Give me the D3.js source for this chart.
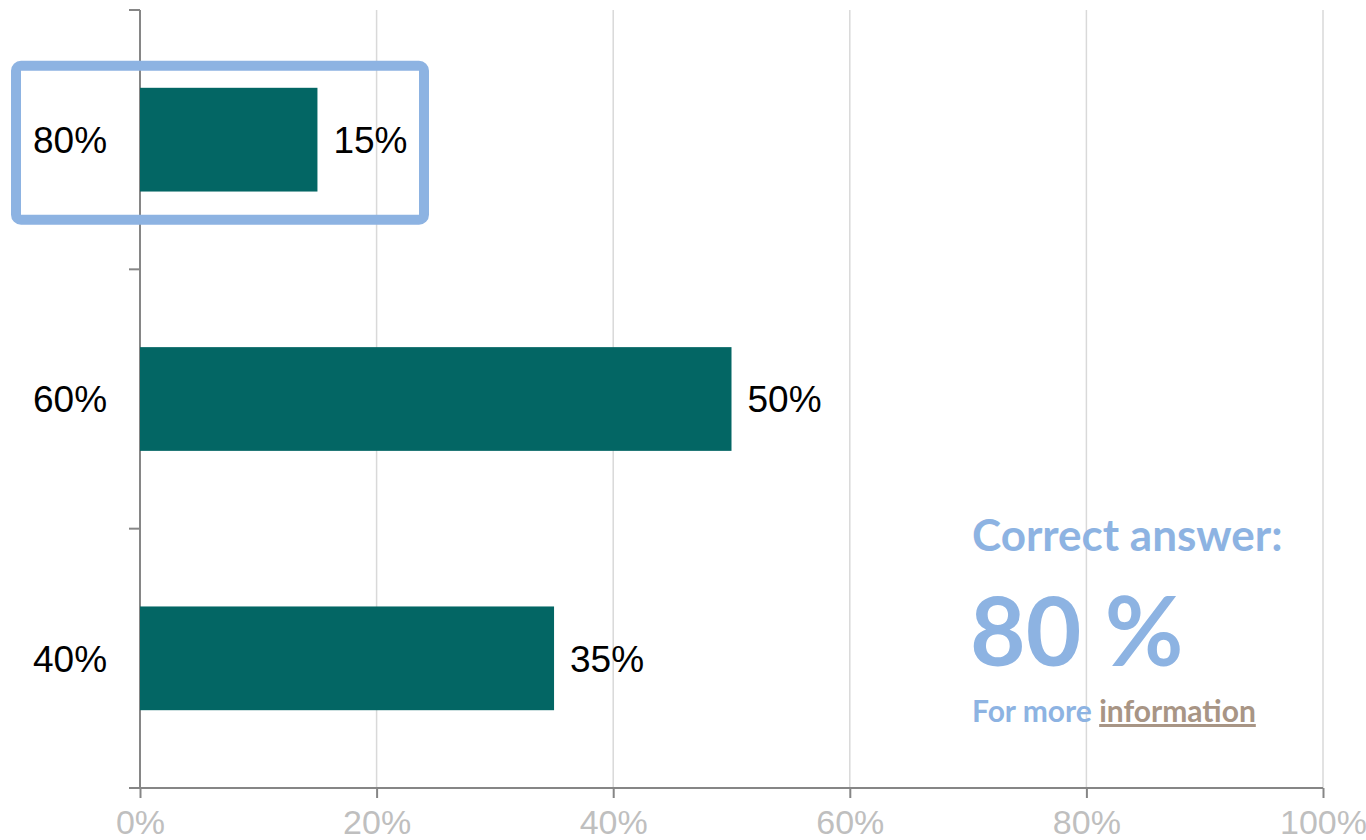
<!DOCTYPE html>
<html><head><meta charset="utf-8">
<script src="https://cdn.jsdelivr.net/npm/d3@7"></script>
<style>html,body{margin:0;padding:0;background:#fff;overflow:hidden}</style>
</head><body>
<svg id="chart" width="1366" height="840"></svg>
<script>
const categories = ["80%", "60%", "40%"];
const values = [0.15, 0.50, 0.35];
const xTicks = [0, 0.2, 0.4, 0.6, 0.8, 1.0];
const highlighted = "80%";
const answerTitle = "Correct answer:";
const answerValue = "80 %";
const moreText = "For more ";
const linkText = "information";

(function () {
const svg = d3.select("#chart");
const mLeft = 140, mRight = 1323, mTop = 10, mBottom = 788;

const x = d3.scaleLinear().domain([0, 1]).range([mLeft, mRight]);
const y = d3.scaleBand().domain(categories).range([mTop, mBottom]).paddingInner(0.6).paddingOuter(0.3);

// gridlines
svg.append("g").selectAll("line").data(xTicks.filter(d => d > 0)).join("line")
  .attr("x1", d => x(d)).attr("x2", d => x(d)).attr("y1", mTop).attr("y2", mBottom)
  .attr("stroke", "#d9d9d9").attr("stroke-width", 1.5);

// bottom axis
const xAxis = svg.append("g").attr("transform", `translate(0,${mBottom})`)
  .call(d3.axisBottom(x).tickValues(xTicks).tickFormat(d3.format(".0%")).tickSize(10).tickPadding(12));
xAxis.select(".domain").attr("stroke", "#868686").attr("stroke-width", 2).attr("d", `M${mLeft-11},0H${mRight}`);
xAxis.selectAll(".tick line").attr("stroke", "#868686").attr("stroke-width", 2);
xAxis.selectAll(".tick text").attr("fill", "#bfbfbf")
  .style("font-family", "'Liberation Sans Narrow', 'Arial Narrow', 'Liberation Sans', Arial, sans-serif")
  .style("font-size", "34px").attr("dy", "0.71em");

// left axis line + band boundary ticks
svg.append("line").attr("x1", mLeft).attr("x2", mLeft).attr("y1", mTop).attr("y2", mBottom)
  .attr("stroke", "#868686").attr("stroke-width", 2);
const boundaries = categories.map(c => y(c) - (y.step() - y.bandwidth()) / 2);
svg.append("g").selectAll("line").data(boundaries).join("line")
  .attr("x1", mLeft - 11).attr("x2", mLeft).attr("y1", d => d).attr("y2", d => d)
  .attr("stroke", "#868686").attr("stroke-width", 2);

// bars
svg.append("g").selectAll("rect").data(categories).join("rect")
  .attr("x", x(0)).attr("y", c => y(c)).attr("height", y.bandwidth())
  .attr("width", (c, i) => x(values[i]) - x(0)).attr("fill", "#036664");

// value labels
svg.append("g").selectAll("text").data(categories).join("text")
  .attr("x", (c, i) => x(values[i]) + 16).attr("y", c => y(c) + y.bandwidth() / 2)
  .attr("dy", "0.36em").text((c, i) => d3.format(".0%")(values[i]))
  .style("font-family", "'Liberation Sans', Arial, sans-serif").style("font-size", "37px").attr("fill", "#000");

// category labels
svg.append("g").selectAll("text").data(categories).join("text")
  .attr("x", 33).attr("y", c => y(c) + y.bandwidth() / 2)
  .attr("dy", "0.36em").text(c => c)
  .style("font-family", "'Liberation Sans', Arial, sans-serif").style("font-size", "37px").attr("fill", "#000");

// highlight box
svg.append("rect").attr("x", 16).attr("y", y(highlighted) - 22).attr("width", 408).attr("height", 154)
  .attr("rx", 5).attr("fill", "none").attr("stroke", "#8db3e2").attr("stroke-width", 10);

// answer annotation
const ff = "Lato, 'Open Sans', sans-serif";
svg.append("text").attr("x", 972).attr("y", 551).text(answerTitle)
  .style("font-family", ff).style("font-weight", "bold").style("font-size", "44px").attr("fill", "#8db3e2");
svg.append("text").attr("x", 970).attr("y", 666).text(answerValue)
  .style("font-family", ff).style("font-weight", "bold").style("font-size", "96px").attr("fill", "#8db3e2");
const t = svg.append("text").attr("x", 972).attr("y", 722)
  .style("font-family", ff).style("font-weight", "bold").style("font-size", "30px");
t.append("tspan").attr("fill", "#8db3e2").text(moreText);
t.append("tspan").attr("fill", "#a89585").style("text-decoration", "underline").text(linkText);
})();
</script>
</body></html>
